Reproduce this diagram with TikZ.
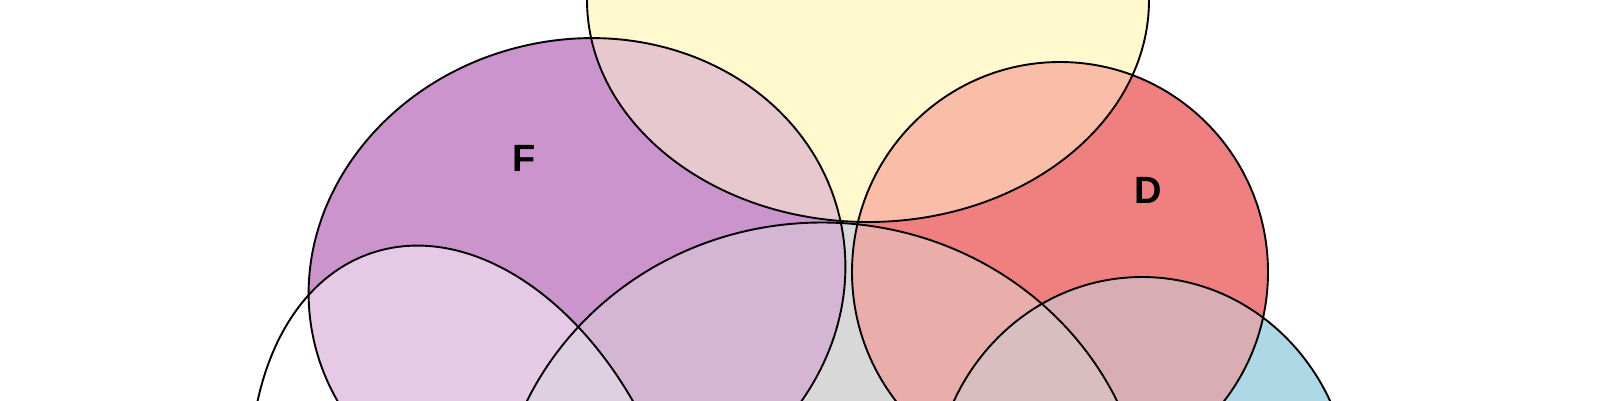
\documentclass[tikz,border=0pt]{standalone}
\usepackage{fontspec}
\setmainfont{Liberation Sans}
\definecolor{cY}{RGB}{255,249,205}
\definecolor{cF}{RGB}{204,148,204}
\definecolor{cD}{RGB}{240,128,128}
\definecolor{cG}{RGB}{216,216,216}
\definecolor{cB}{RGB}{173,216,230}
\definecolor{cW}{RGB}{255,255,255}
\definecolor{cYF}{RGB}{231,200,206}
\definecolor{cYD}{RGB}{250,190,168}
\definecolor{cFG}{RGB}{212,181,212}
\definecolor{cFW}{RGB}{230,201,229}
\definecolor{cDG}{RGB}{233,173,170}
\definecolor{cDB}{RGB}{216,174,180}
\definecolor{cGB}{RGB}{195,216,223}
\definecolor{cGW}{RGB}{236,236,236}
\definecolor{cFGW}{RGB}{222,207,225}
\definecolor{cDGB}{RGB}{217,190,192}
\newcommand\ellY{(868,0) ellipse [x radius=281, y radius=222]}
\newcommand\ellF{(577,-280) ellipse [x radius=270, y radius=240, rotate=14]}
\newcommand\ellD{(1060,-272) ellipse [x radius=208, y radius=210]}
\newcommand\ellG{(822,-533.5) ellipse [x radius=326, y radius=311]}
\newcommand\ellB{(1142,-497) ellipse [x radius=209, y radius=220]}
\newcommand\ellW{(472,-550.5) ellipse [x radius=209, y radius=314, rotate=18.7]}
\tikzset{
  outline/.style={draw=black, line width=1.9pt},
  setlabel/.style={font=\fontsize{38}{38}\selectfont\bfseries, text=black, inner sep=0pt}
}
\begin{document}
\begin{tikzpicture}[x=1pt,y=1pt]
\useasboundingbox (0,0) rectangle (1600,-400);
\clip (0,0) rectangle (1600,-400);
\fill[white] (0,0) rectangle (1600,-400);
% single sets
\fill[cY] \ellY;
\fill[cF] \ellF;
\fill[cD] \ellD;
\fill[cG] \ellG;
\fill[cB] \ellB;
\fill[cW] \ellW;
% pairs
\begin{scope}\clip \ellY; \fill[cYF] \ellF;\end{scope}
\begin{scope}\clip \ellY; \fill[cYD] \ellD;\end{scope}
\begin{scope}\clip \ellF; \fill[cFG] \ellG;\end{scope}
\begin{scope}\clip \ellF; \fill[cFW] \ellW;\end{scope}
\begin{scope}\clip \ellD; \fill[cDG] \ellG;\end{scope}
\begin{scope}\clip \ellD; \fill[cDB] \ellB;\end{scope}
\begin{scope}\clip \ellG; \fill[cGB] \ellB;\end{scope}
\begin{scope}\clip \ellG; \fill[cGW] \ellW;\end{scope}
% triples
\begin{scope}\clip \ellF; \clip \ellG; \fill[cFGW] \ellW;\end{scope}
\begin{scope}\clip \ellD; \clip \ellG; \fill[cDGB] \ellB;\end{scope}
% outlines
\draw[outline] \ellY;
\draw[outline] \ellF;
\draw[outline] \ellD;
\draw[outline] \ellG;
\draw[outline] \ellB;
\draw[outline] \ellW;
% labels
\node[setlabel] (labF) at (524,-158) {F};
\node[setlabel] (labD) at (1148,-190) {D};
\end{tikzpicture}
\end{document}
